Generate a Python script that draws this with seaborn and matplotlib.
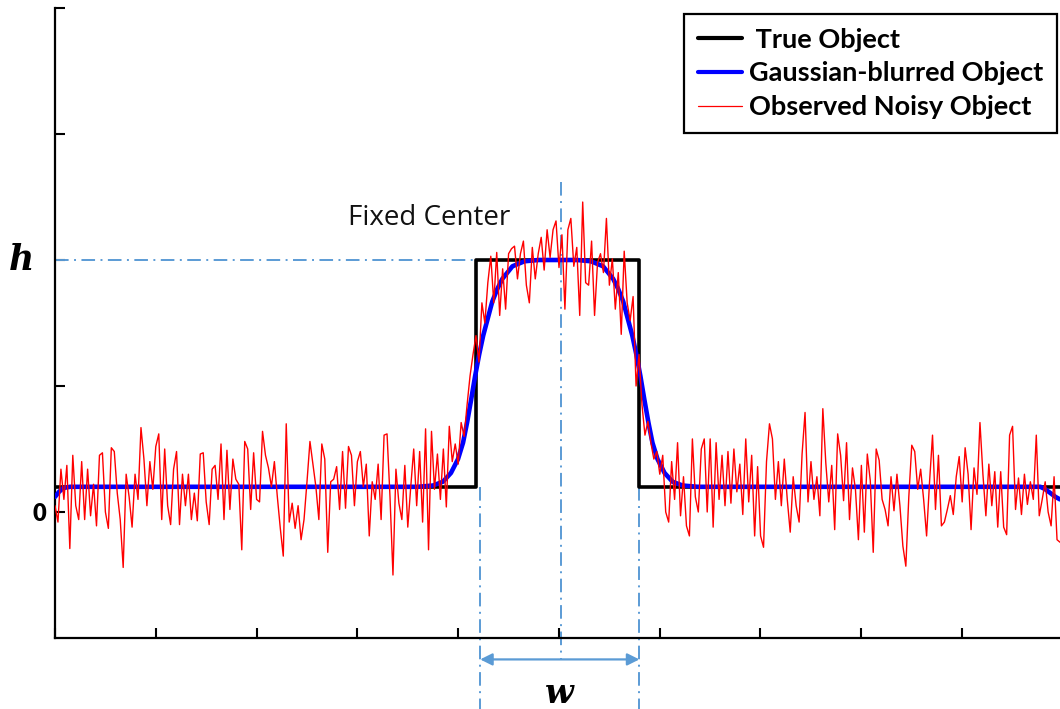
import numpy as np
import matplotlib
matplotlib.use("Agg")
import matplotlib.pyplot as plt
import seaborn as sns

# ---- data -------------------------------------------------------------
X_MAX = 9.975

# true (rectangular) object
true_x = [0.0, 4.18, 4.18, 5.80, 5.80, X_MAX]
true_y = [0.2, 0.2, 2.0, 2.0, 0.2, 0.2]

# gaussian-blurred object
blur_x = [0.0, 0.04, 0.08, 0.15, 3.60, 3.75, 3.85, 3.93, 4.00, 4.05, 4.09, 4.13,
          4.17, 4.21, 4.25, 4.30, 4.34, 4.39, 4.44, 4.54, 4.66, 4.80, 5.18, 5.32,
          5.44, 5.54, 5.59, 5.64, 5.68, 5.73, 5.77, 5.81, 5.85, 5.89, 5.93, 5.98,
          6.05, 6.13, 6.23, 6.38, 9.78, 9.83, 9.88, 9.93, X_MAX]
blur_y = [0.12, 0.16, 0.19, 0.20, 0.20, 0.21, 0.24, 0.31, 0.42, 0.55, 0.71, 0.89,
          1.08, 1.25, 1.40, 1.55, 1.67, 1.77, 1.85, 1.95, 1.99, 2.00, 2.00, 1.99,
          1.95, 1.85, 1.77, 1.67, 1.55, 1.40, 1.25, 1.08, 0.89, 0.71, 0.55, 0.42,
          0.31, 0.24, 0.21, 0.20, 0.20, 0.18, 0.15, 0.12, 0.10]

# observed noisy object (evenly spaced samples over the x range)
observed_y = [
    0.05, -0.08, 0.34, 0.10, 0.37, -0.29, 0.45, 0.05, -0.06, 0.40, -0.06, 0.34, -0.03, 0.22, -0.11, 0.45, 0.47, 0.00, -0.13, 0.51,
    0.48, 0.15, -0.06, -0.44, 0.30, 0.12, -0.12, 0.30, 0.10, 0.67, 0.42, 0.05, 0.40, 0.18, 0.52, 0.62, -0.06, 0.50, 0.05, -0.10,
    0.34, 0.48, -0.10, 0.30, 0.05, 0.30, -0.06, 0.15, -0.07, 0.46, 0.47, 0.08, -0.10, 0.34, 0.37, 0.10, 0.54, -0.06, 0.49, 0.02,
    0.42, 0.26, 0.22, -0.30, 0.56, 0.50, 0.02, 0.47, 0.10, 0.08, 0.64, 0.45, 0.35, 0.20, 0.40, 0.12, -0.13, -0.35, 0.70, -0.08,
    0.07, -0.13, 0.05, -0.22, -0.06, 0.24, 0.56, 0.38, 0.20, -0.06, 0.54, 0.42, -0.32, 0.24, 0.26, 0.36, 0.02, 0.48, 0.03, 0.52,
    0.45, 0.05, 0.40, 0.48, 0.20, 0.38, -0.19, 0.24, 0.10, 0.38, -0.06, 0.61, 0.62, 0.12, -0.50, 0.34, 0.07, -0.06, 0.37, -0.12,
    0.20, 0.50, 0.05, 0.48, -0.08, 0.66, -0.30, 0.64, 0.18, 0.46, 0.10, 0.50, 0.04, 0.68, 0.40, 0.54, 0.38, 0.71, 0.60, 0.85,
    1.08, 1.25, 1.40, 1.19, 1.66, 1.50, 1.82, 2.03, 1.66, 2.06, 1.56, 1.93, 1.61, 2.05, 2.09, 2.11, 1.85, 2.05, 2.15, 1.80,
    1.66, 2.10, 1.85, 2.05, 2.18, 1.92, 2.24, 2.02, 2.24, 2.31, 1.94, 2.20, 1.61, 2.24, 2.33, 1.95, 2.10, 1.56, 2.46, 1.82,
    1.80, 2.15, 1.56, 1.98, 2.05, 1.90, 2.33, 1.80, 2.01, 1.61, 1.90, 1.41, 2.07, 1.66, 1.52, 1.71, 1.00, 1.25, 0.85, 0.61,
    0.72, 0.55, 0.42, 0.48, 0.30, 0.45, 0.00, -0.08, 0.40, 0.10, 0.55, -0.03, 0.28, -0.11, -0.19, 0.58, 0.12, 0.00, 0.50, 0.58,
    0.00, 0.58, -0.12, 0.55, 0.10, 0.45, 0.05, 0.48, 0.07, 0.50, 0.16, 0.38, -0.02, 0.58, 0.08, 0.45, -0.19, 0.36, -0.19, -0.28,
    0.40, 0.70, 0.58, 0.10, 0.40, 0.05, 0.42, 0.10, -0.16, 0.28, 0.05, -0.08, 0.46, 0.79, 0.08, 0.40, 0.10, 0.28, -0.03, 0.82,
    0.39, 0.08, 0.37, -0.14, 0.62, 0.45, 0.09, 0.55, -0.06, 0.35, 0.18, -0.22, 0.37, -0.16, 0.46, 0.25, -0.32, 0.50, 0.41, 0.10,
    0.02, -0.11, 0.28, 0.01, 0.30, 0.05, -0.27, -0.43, 0.12, 0.53, 0.48, 0.18, 0.34, 0.10, -0.19, 0.24, 0.61, 0.02, 0.45, -0.11,
    -0.08, 0.02, 0.13, -0.02, 0.28, 0.44, 0.08, 0.51, 0.30, -0.14, 0.35, 0.14, 0.71, 0.30, -0.03, 0.38, 0.05, 0.32, -0.12, 0.32,
    -0.12, -0.18, 0.61, 0.68, 0.02, 0.27, -0.02, 0.30, 0.06, 0.24, 0.10, 0.61, -0.03, 0.10, 0.24, 0.00, -0.11, 0.28, -0.22, -0.24,
]
observed_x = np.linspace(0.0, X_MAX, len(observed_y))

# annotation geometry (data units)
h_level = 2.0
center_x = 5.02
width_left, width_right = 4.22, 5.80
arrow_y = -1.17

y_ticks = [0, 1, 2, 3, 4]
y_tick_labels = ["0", "", "", "", ""]
x_ticks = [0, 1, 2, 3, 4, 5, 6, 7, 8, 9]

# ---- style ------------------------------------------------------------
sns.set_style("ticks")
plt.rcParams["font.family"] = ["Lato", "DejaVu Sans"]
plt.rcParams["text.color"] = "black"
plt.rcParams["xtick.color"] = "black"
plt.rcParams["ytick.color"] = "black"

GUIDE = "#5B9BD5"
guide_ls = (0, (7.0, 2.8, 1.0, 2.8))

fig = plt.figure(figsize=(10.6, 7.09), dpi=100)
ax = fig.add_axes([55 / 1060, 71 / 709, 1005 / 1060, 630 / 709])

sns.lineplot(x=true_x, y=true_y, ax=ax, color="black", linewidth=2.6,
             estimator=None, sort=False, label=" True Object", zorder=2)
sns.lineplot(x=blur_x, y=blur_y, ax=ax, color="#0000FF", linewidth=3.3,
             estimator=None, sort=False, label="Gaussian-blurred Object", zorder=3)
sns.lineplot(x=observed_x, y=observed_y, ax=ax, color="#FF0000", linewidth=1.0,
             estimator=None, sort=False, label="Observed Noisy Object", zorder=4)

# guide lines
ax.plot([0, 4.18], [h_level, h_level], color=GUIDE, lw=1.4, ls=guide_ls, zorder=1)
ax.plot([center_x, center_x], [2.62, -1.17], color=GUIDE, lw=1.4, ls=guide_ls,
        zorder=1, clip_on=False)
for xv in (width_left, width_right):
    ax.plot([xv, xv], [0.2, -1.56], color=GUIDE, lw=1.4, ls=guide_ls,
            zorder=1, clip_on=False)
ax.annotate("", xy=(width_left, arrow_y), xytext=(width_right, arrow_y),
            xycoords="data", annotation_clip=False,
            arrowprops=dict(arrowstyle="<|-|>", color=GUIDE, lw=1.6,
                            mutation_scale=18, shrinkA=0, shrinkB=0))

ax.text(2.91, 2.33, "Fixed Center", fontsize=20, fontfamily="Open Sans",
        ha="left", va="center", color="#111111")
ax.text((width_left + width_right) / 2, -1.44, "w", fontsize=24,
        fontfamily="DejaVu Serif", fontweight="bold", fontstyle="italic",
        ha="center", va="center", clip_on=False)
ax.text(-0.033, h_level, "h", transform=ax.get_yaxis_transform(), fontsize=25,
        fontfamily="DejaVu Serif", fontweight="bold", fontstyle="italic",
        ha="center", va="center", clip_on=False)

# axes
ax.set_xlim(0, X_MAX)
ax.set_ylim(-1, 4)
ax.set_xticks(x_ticks)
ax.set_xticklabels([])
ax.set_yticks(y_ticks)
ax.set_yticklabels(y_tick_labels)
ax.tick_params(direction="in", length=7.5, width=1.5, colors="black", pad=6)
for lbl in ax.get_yticklabels():
    lbl.set_fontweight("heavy")
    lbl.set_fontsize(17)
for side in ("top", "right"):
    ax.spines[side].set_visible(False)
for side in ("left", "bottom"):
    ax.spines[side].set_linewidth(1.6)
    ax.spines[side].set_color("black")

leg = ax.legend(loc="upper right", bbox_to_anchor=(1057 / 1060, 1 - 14 / 709),
                bbox_transform=fig.transFigure, borderaxespad=0, frameon=True,
                fancybox=False, edgecolor="black", framealpha=1, borderpad=0.5,
                handlelength=1.65, handletextpad=0.25, labelspacing=0.36,
                prop={"weight": "bold", "size": 19.5})
leg.get_frame().set_linewidth(1.6)
for line, lw in zip(leg.get_lines(), (3.0, 3.0, 0.9)):
    line.set_linewidth(lw)
for txt in leg.get_texts():
    txt.set_color("black")

fig.savefig("out.png", dpi=100)
